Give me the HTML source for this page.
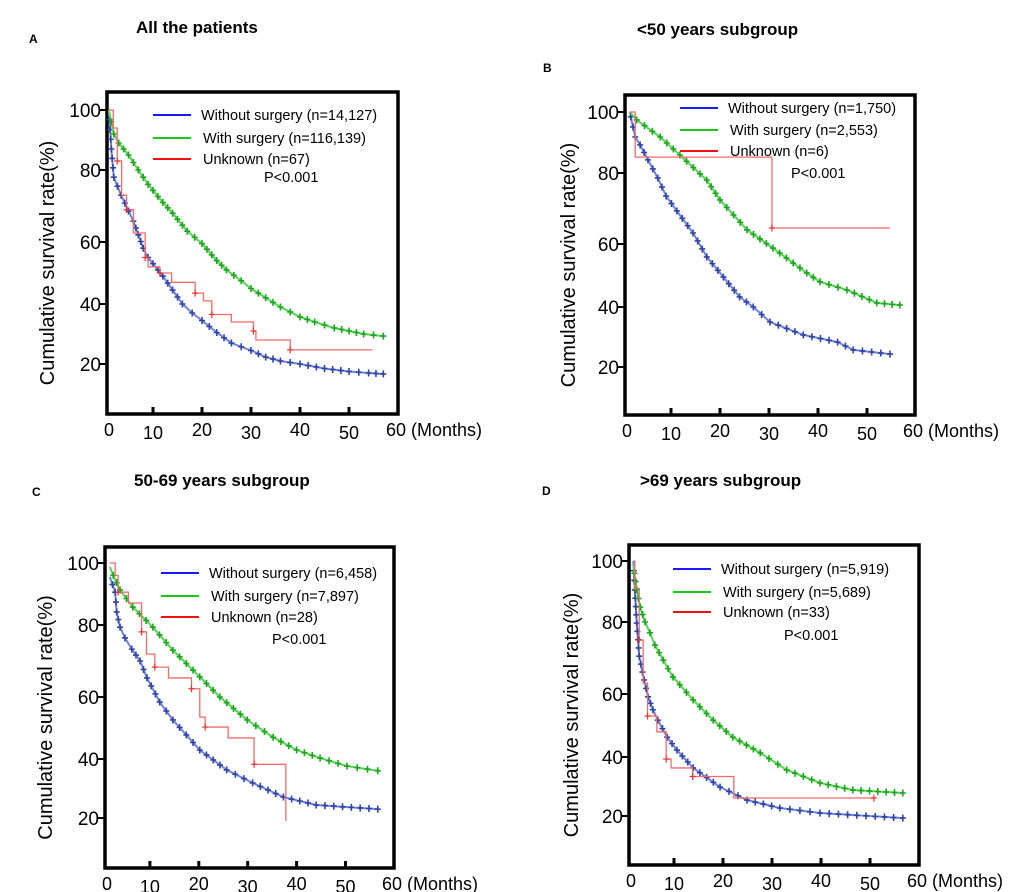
<!DOCTYPE html>
<html><head><meta charset="utf-8">
<style>
html,body{margin:0;padding:0;background:#fff;}
svg{display:block;font-family:"Liberation Sans",Arial,sans-serif;}
</style></head>
<body>
<svg id="fig" width="1020" height="892" viewBox="0 0 1020 892"></svg>
<script>
// ---------- DATA ----------
const panelIds = ["A","B","C","D"];
const panelTitles = ["All the patients","<50  years subgroup","50-69 years subgroup",">69 years subgroup"];
const legendLabels = [
  ["Without surgery (n=14,127)","With surgery (n=116,139)","Unknown (n=67)"],
  ["Without surgery (n=1,750)","With surgery (n=2,553)","Unknown (n=6)"],
  ["Without surgery (n=6,458)","With surgery (n=7,897)","Unknown (n=28)"],
  ["Without surgery (n=5,919)","With surgery (n=5,689)","Unknown (n=33)"]
];
const pValueText = "P<0.001";
const yTickValues = [100,80,60,40,20];
const xTickValues = [0,10,20,30,40,50,60];

// Panel A
const aBlueT = [1,1.5,2,3.5,5,6,7,8,9,10,12,14,16,18,20,23,26,30,33,36,40,45,50,54,57];
const aBlueV = [100,87,78,73,68.6,65.8,62,58,55,53,49,44.5,40,37,34.5,30.5,27,24.5,22.3,21,20,18.5,17.5,17,16.7];
const aGreenT = [1,1.5,2,3,5,7,9,12,14,17,20,23,25,28,30,33,36,40,43,47,50,53,57];
const aGreenV = [100,96,92,89,85,80,76,71,68,63,59.5,54,51,47.5,45,42,39,35.7,34,32,31,30,29.3];
const aRedT = [1,1.9,2.7,3.6,4.6,6,8.4,9,11.4,13.8,18.6,20.3,22,26,30.5,31,38,54.8];
const aRedV = [100,94,83,73,69,62.5,55,52,50,47,43.5,41,36.5,34,31,28,24.7,24.7];
// Panel B
const bBlueT = [1.6,1.8,2.7,3.7,5.3,7.3,9,11.2,14.5,17.3,20.7,24,26.8,30.2,37,44,47.2,54.7];
const bBlueV = [100,98.4,91.8,89.2,84.3,78.6,73.5,69.3,63.1,55.9,49.5,43.2,40,35,30.7,28.3,25.7,24.3];
const bGreenT = [1.6,3,7.8,11.8,17.3,20,25.5,30.8,37.7,40.4,45.9,52,56.7];
const bGreenV = [100,97.4,91.8,85.9,78,72.4,64,58.7,50.8,48,45.4,41.3,40.6];
const bRedT = [1.6,2.7,30.6,54.7];
const bRedV = [100,85.2,64.5,64.5];
// Panel C
const cBlueT = [1.8,2.9,3.2,3.9,4.9,6.3,8,9.4,12,14.7,20.2,25.7,31,37.3,44,56.6];
const cBlueV = [95.5,90.6,84.2,79.4,76.4,73.3,70,65.3,58.4,52.6,42.9,36.3,31.9,27.1,24.4,23];
const cGreenT = [1.8,2.5,3.9,6.5,10.6,14.7,20.2,24.3,29.9,35.2,40,44.8,50.3,56.6];
const cGreenV = [98.7,96,91.3,85.8,79.4,73,65.6,60,52.6,47,42.9,40.3,37.6,36];
const cRedT = [1.8,2.9,3.5,5.6,8.3,9.3,11,13.8,18.5,20.2,21.3,26,31.3,37.8];
const cRedV = [100,96,90.6,87.1,78.1,71.9,68.3,65.3,62.3,53.5,50.3,46.8,38.2,31.9];
const cRedEndV = 19;
// Panel D
const dBlueT = [1.7,2,2.4,2.9,3.9,4.7,5.7,6.7,8.6,10.6,13.9,19.4,24.9,31.6,39.8,56.7];
const dBlueV = [100,90.5,79.7,70.5,63.9,59.1,55,51.7,46.3,42.2,36.3,29.8,25.4,22.7,21,19.3];
const dGreenT = [1.7,2.4,3.1,4.1,5.1,6.1,7.8,9.8,13.9,18,22,27.6,33,39.8,46.5,56.7];
const dGreenV = [98.7,90.5,84.9,80,77,73.6,69.4,64.7,58.1,51.7,46.3,41.3,35.6,31.2,28.8,27.8];
const dRedT = [1.7,2.0,2.9,3.7,4.6,6.5,8.4,9.4,13.8,22.2,50.8];
const dRedV = [100,91,75,63,53,48,39.3,36.3,33.4,26.1,26.1];

// ---------- LAYOUT ----------
const layouts = [
  {box:[107,92,398,414], x0:104, kx:4.9, yt:[110,170,242,304,364], lx:153, ly:[115,138,159], px:264, py:182,
   tX:136, tY:33, idX:29, idY:43, axX:47},
  {box:[625,95,915,415], x0:622, kx:4.9, yt:[112,173,244,307,367], lx:680, ly:[108,130,151], px:791, py:178,
   tX:637, tY:35, idX:543, idY:72, axX:568},
  {box:[105,547,394,868], x0:101, kx:4.89, yt:[563,625,697,759,818], lx:161, ly:[573,596,617], px:272, py:644,
   tX:134, tY:486, idX:32, idY:496, axX:45},
  {box:[629,545,919,865], x0:625, kx:4.9, yt:[561,622,694,757,816], lx:673, ly:[569,592,612], px:784, py:640,
   tX:640, tY:486, idX:542, idY:495, axX:571}
];
const seriesSets = [
  [[aBlueT,aBlueV],[aGreenT,aGreenV],[aRedT,aRedV]],
  [[bBlueT,bBlueV],[bGreenT,bGreenV],[bRedT,bRedV]],
  [[cBlueT,cBlueV],[cGreenT,cGreenV],[cRedT,cRedV]],
  [[dBlueT,dBlueV],[dGreenT,dGreenV],[dRedT,dRedV]]
];
const lineColors = ["#6f85d6","#5ccf5c","#f26b6b"];
const markColors = ["#2f43a8","#18a818","#ee3030"];
const legendColors = ["#1a1aff","#19c719","#ee1111"];
const NS = "http://www.w3.org/2000/svg";
const svg = document.getElementById("fig");
function mk(tag, attrs, parent){
  const e = document.createElementNS(NS, tag);
  for (const k in attrs) e.setAttribute(k, attrs[k]);
  (parent||svg).appendChild(e);
  return e;
}
function plus(g, x, y, color, w){
  const m = mk("path", {d:`M${x-3},${y} H${x+3} M${x},${y-3.5} V${y+3.5}`, stroke:color, "stroke-width":w}, g);
  
  
}

layouts.forEach((L, p) => {
  const g = mk("g", {});
  
  
  const xS = t => L.x0 + L.kx * t;
  const yS = v => {
    for (let i = 0; i < yTickValues.length - 1; i++) {
      const a = yTickValues[i], b = yTickValues[i+1];
      if (v >= b || i === yTickValues.length - 2) {
        return L.yt[i] + (a - v) / (a - b) * (L.yt[i+1] - L.yt[i]);
      }
    }
  };
  const id = mk("text", {x:L.idX, y:L.idY, "font-size":12, "font-weight":"bold"}, g);
  id.textContent = panelIds[p];
  
  
  const tt = mk("text", {x:L.tX, y:L.tY, "font-size":17, "font-weight":"bold"}, g);
  tt.textContent = panelTitles[p];
  
  
  const [bx1,by1,bx2,by2] = L.box;
  const fr = mk("rect", {x:bx1, y:by1, width:bx2-bx1, height:by2-by1, fill:"none", stroke:"#000", "stroke-width":3.5}, g);
  
  
  yTickValues.forEach(v => {
    const y = yS(v);
    const tk = mk("line", {x1:bx1-7, x2:bx1, y1:y, y2:y, stroke:"#000", "stroke-width":2}, g);
    
    
    const tl = mk("text", {x:bx1-6, y:y+7, "font-size":19, "text-anchor":"end"}, g);
    tl.textContent = v;
    
    
  });
  xTickValues.forEach((t, i) => {
    const x = i === 0 ? bx1 + 2 : xS(t);
    if (i > 0 && i < 6) {
      const tk = mk("line", {x1:x, x2:x, y1:by2, y2:by2-7, stroke:"#000", "stroke-width":3}, g);
      
      
    }
    const tl = mk("text", {x: i === 6 ? bx2 - 12 : x, y: by2 + 22 + (i%2 ? 3 : 0), "font-size":18, "text-anchor": i === 6 ? "start" : "middle"}, g);
    tl.textContent = i === 6 ? t + " (Months)" : t;
    
    
  });
  const cy = (by1 + by2) / 2 + 10;
  const at = mk("text", {x:L.axX, y:cy, "font-size":20, "text-anchor":"middle", transform:`rotate(-90 ${L.axX} ${cy})`, dy:"0.35em"}, g);
  at.textContent = "Cumulative survival rate(%)";
  
  
  seriesSets[p].forEach((s, si) => {
    const [T, V] = s;
    let d = `M${xS(T[0])},${yS(V[0])}`;
    for (let i = 1; i < T.length; i++) {
      if (si === 2) d += ` H${xS(T[i])} V${yS(V[i])}`;
      else d += ` L${xS(T[i])},${yS(V[i])}`;
    }
    if (p === 2 && si === 2) d += ` V${yS(cRedEndV)}`;
    const path = mk("path", {d:d, fill:"none", stroke:lineColors[si], "stroke-width": si===2 ? 1.3 : 2}, g);
    
    
    for (let i = 1; i < T.length; i++) {
      if (si === 2) {
        if (i % 2 === 0) plus(g, xS(T[i]), yS(V[i]), markColors[si], 1.2);
        continue;
      }
      const x1 = xS(T[i-1]), y1 = yS(V[i-1]), x2 = xS(T[i]), y2 = yS(V[i]);
      const dist = Math.hypot(x2-x1, y2-y1);
      const n = Math.max(1, Math.round(dist / 9));
      for (let k = 1; k <= n; k++) {
        plus(g, x1 + (x2-x1)*k/n, y1 + (y2-y1)*k/n, markColors[si], 1.6);
      }
    }
  });
  legendLabels[p].forEach((lab, i) => {
    const ln = mk("line", {x1:L.lx, x2:L.lx+38, y1:L.ly[i], y2:L.ly[i], stroke:legendColors[i], "stroke-width":2}, g);
    
    
    const tx = mk("text", {x:L.lx + 48 + (i ? 2 : 0), y:L.ly[i] + 5, "font-size":14.5}, g);
    tx.textContent = lab;
    
    
  });
  const pv = mk("text", {x:L.px, y:L.py, "font-size":14.5}, g);
  pv.textContent = pValueText;
  
  
});
</script>
</body></html>
